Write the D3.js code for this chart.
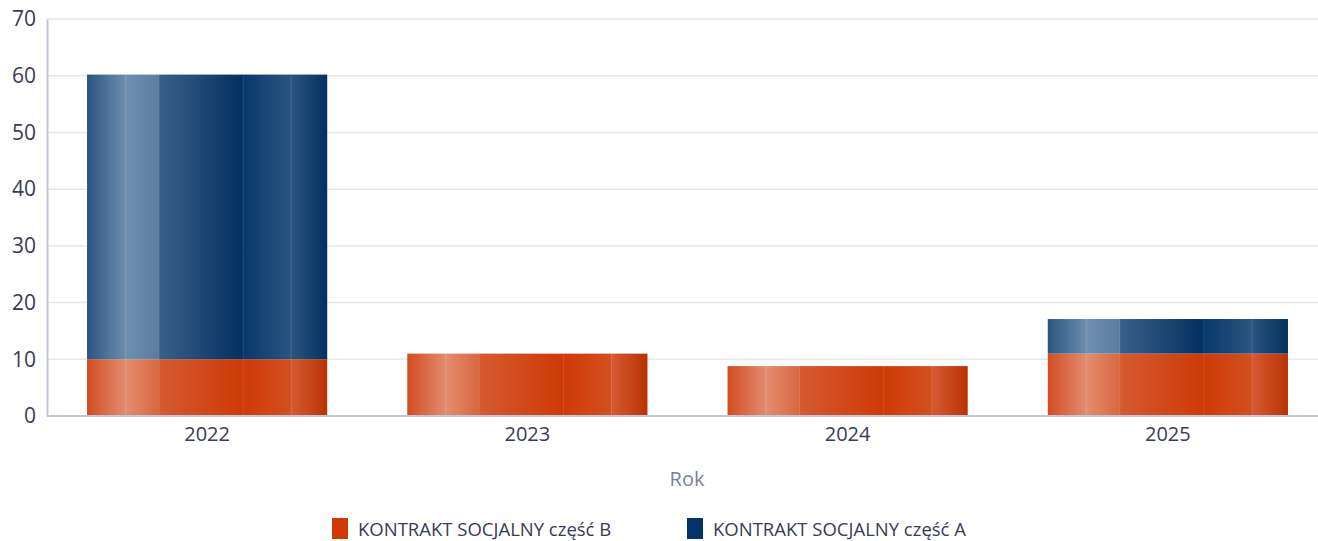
<!DOCTYPE html>
<html>
<head>
<meta charset="utf-8">
<script src="https://cdn.jsdelivr.net/npm/d3@7"></script>
<style>
  html, body { margin: 0; padding: 0; background: #fff; }
  svg { display: block; }
  text { font-family: "Open Sans", sans-serif; }
</style>
</head>
<body>
<svg id="chart" width="1318" height="541"></svg>
<script>
// data
var years = ["2022", "2023", "2024", "2025"];
var partB = [10, 11, 8.8, 11];
var partA = [50.2, 0, 0, 6.1];
var seriesNames = ["KONTRAKT SOCJALNY część B", "KONTRAKT SOCJALNY część A"];
var yTicks = [0, 10, 20, 30, 40, 50, 60, 70];

var W = 1318, H = 541;
var margin = {left: 47, top: 19, bottom: 125};
var plotRight = 1328;

var svg = d3.select("#chart");
var defs = svg.append("defs");

// striped "glassy" gradients like the original
function addGrad(id, stops) {
  var g = defs.append("linearGradient").attr("id", id)
    .attr("x1", "0%").attr("x2", "100%").attr("y1", "0%").attr("y2", "0%");
  stops.forEach(function(s) {
    g.append("stop").attr("offset", s[0]).attr("stop-color", s[1]);
  });
}
addGrad("gradA", [[0, "#2b5580"], [0.16, "#6d8caf"], [0.16, "#7090b0"], [0.30, "#5a7ca0"],
  [0.30, "#3a6088"], [0.65, "#03305f"], [0.65, "#08386a"], [0.85, "#2a5580"], [0.85, "#2a5580"], [1, "#03305f"]]);
addGrad("gradB", [[0, "#d24d22"], [0.16, "#e28c70"], [0.16, "#e38d70"], [0.30, "#d8673f"],
  [0.30, "#d65a30"], [0.65, "#cd3a06"], [0.65, "#cf3a08"], [0.85, "#d3501f"], [0.85, "#d65a32"], [1, "#b93203"]]);

var x = d3.scaleBand().domain(years).range([margin.left, plotRight]).paddingInner(0.25).paddingOuter(0.125);
var y = d3.scaleLinear().domain([0, 70]).range([H - margin.bottom, margin.top]);

// gridlines
svg.append("g").selectAll("line").data(yTicks.filter(function(d) { return d > 0; })).enter()
  .append("line")
  .attr("x1", margin.left).attr("x2", W)
  .attr("y1", function(d) { return y(d); }).attr("y2", function(d) { return y(d); })
  .attr("stroke", "#e6e6ee").attr("stroke-width", 1.5);

var stacked = years.map(function(yr, i) {
  return {year: yr, b: partB[i], a: partA[i]};
});

var bars = svg.append("g");
function drawSeg(d, lo, hi, fill) {
  if (hi <= lo) return;
  var x0 = x(d.year), bw = x.bandwidth();
  bars.append("rect")
    .attr("x", x0).attr("width", bw)
    .attr("y", y(hi)).attr("height", y(lo) - y(hi))
    .attr("fill", fill);
  // faint stripe edges
  [0.16, 0.30, 0.65, 0.85].forEach(function(f) {
    bars.append("line")
      .attr("x1", x0 + bw * f).attr("x2", x0 + bw * f)
      .attr("y1", y(hi)).attr("y2", y(lo))
      .attr("stroke", "#ffffff").attr("stroke-opacity", 0.12).attr("stroke-width", 1);
  });
}
stacked.forEach(function(d) {
  drawSeg(d, 0, d.b, "url(#gradB)");
  drawSeg(d, d.b, d.b + d.a, "url(#gradA)");
});

// y axis
var yAxis = svg.append("g").attr("transform", "translate(" + margin.left + ",0)")
  .call(d3.axisLeft(y).tickValues(yTicks).tickSize(0).tickPadding(11));
yAxis.select(".domain").attr("stroke", "#c4c6d8").attr("stroke-width", 2);
yAxis.selectAll("text").attr("font-size", 21).attr("fill", "#3a3b55").attr("font-family", "Open Sans, sans-serif");

// x axis
var xAxis = svg.append("g").attr("transform", "translate(0," + y(0) + ")")
  .call(d3.axisBottom(x).tickSize(0).tickPadding(11));
xAxis.select(".domain").attr("d", "M" + margin.left + ",0H" + W).attr("stroke", "#c4c6d8").attr("stroke-width", 2);
xAxis.selectAll("text").attr("font-size", 20).attr("fill", "#3a3b55").attr("font-family", "Open Sans, sans-serif");

svg.append("text").attr("x", 687).attr("y", 486).attr("text-anchor", "middle")
  .attr("font-size", 20).attr("fill", "#7a7ea2").text("Rok");

// legend
var legendColors = ["#d03a04", "#03336a"];
var legendX = [332, 687];
var lg = svg.append("g");
seriesNames.forEach(function(name, i) {
  lg.append("rect").attr("x", legendX[i]).attr("y", 518).attr("width", 16).attr("height", 21)
    .attr("fill", legendColors[i]);
  lg.append("text").attr("x", legendX[i] + 26).attr("y", 536)
    .attr("font-size", 18.5).attr("fill", "#3a3b55").text(name);
});
</script>
</body>
</html>
